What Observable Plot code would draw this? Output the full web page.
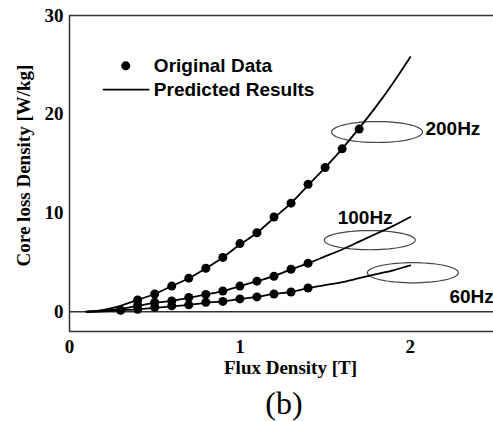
<!DOCTYPE html>
<html>
<head>
<meta charset="utf-8">
<script src="https://cdn.jsdelivr.net/npm/d3@7"></script>
<script src="https://cdn.jsdelivr.net/npm/@observablehq/plot@0.6"></script>
<style>
  html, body { margin: 0; padding: 0; background: #fff; }
  #chart svg { display: block; }
  #cap { font-family: "Liberation Serif", "Times New Roman", serif; font-size: 32px; height: 36px; line-height: 36px; width: 493px; position: relative; }
  #cap span { position: absolute; left: 284px; top: 0; transform: translateX(-50%); }
</style>
</head>
<body>
<div id="chart"></div>
<div id="cap"><span>(b)</span></div>
<script>
// ---- Data ----
const series = ["200Hz", "100Hz", "60Hz"];

// Measured ("Original Data") flux density points
const measB200 = [0.3, 0.4, 0.5, 0.6, 0.7, 0.8, 0.9, 1.0, 1.1, 1.2, 1.3, 1.4, 1.5, 1.6, 1.7];
const meas200  = [0.15, 1.2, 1.8, 2.6, 3.4, 4.4, 5.5, 6.9, 8.0, 9.6, 11.0, 12.9, 14.6, 16.5, 18.5];
const measB100 = [0.4, 0.5, 0.6, 0.7, 0.8, 0.9, 1.0, 1.1, 1.2, 1.3, 1.4];
const meas100  = [0.7, 0.95, 1.1, 1.45, 1.75, 2.1, 2.6, 3.1, 3.6, 4.3, 4.9];
const measB60  = [0.4, 0.5, 0.6, 0.7, 0.8, 0.9, 1.0, 1.1, 1.2, 1.3, 1.4];
const meas60   = [0.25, 0.45, 0.6, 0.7, 0.95, 1.05, 1.3, 1.5, 1.8, 2.0, 2.4];

// Predicted results curves
const predB    = [0.1, 0.2, 0.3, 0.4, 0.5, 0.6, 0.7, 0.8, 0.9, 1.0, 1.1, 1.2, 1.3, 1.4, 1.5, 1.6, 1.7, 1.8, 1.9, 2.0];
const pred200  = [0, 0.2, 0.6, 1.2, 1.8, 2.6, 3.4, 4.4, 5.5, 6.8, 8.0, 9.5, 11.0, 12.8, 14.6, 16.5, 18.6, 20.8, 23.2, 25.8];
const pred100  = [0, 0.1, 0.3, 0.6, 0.9, 1.1, 1.4, 1.75, 2.1, 2.6, 3.1, 3.6, 4.3, 4.9, 5.6, 6.3, 7.1, 7.9, 8.7, 9.6];
const pred60   = [0, 0.05, 0.15, 0.25, 0.4, 0.55, 0.7, 0.9, 1.05, 1.3, 1.5, 1.8, 2.0, 2.4, 2.7, 3.0, 3.4, 3.8, 4.2, 4.7];

// Annotation ellipses (data units) and frequency labels
const ellipseCx = [1.805, 1.762, 2.015];
const ellipseCy = [18.2, 7.25, 3.95];
const ellipseRx = [0.267, 0.267, 0.267];
const ellipseRy = [1.06, 0.97, 1.02];
const labelX    = [2.25, 1.735, 2.36];
const labelY    = [18.5, 9.5, 1.5];

const xTicks = [0, 1, 2];
const yTicks = [0, 10, 20, 30];
const legendLabels = ["Original Data", "Predicted Results"];
const xTitle = "Flux Density [T]";
const yTitle = "Core loss Density [W/kg]";

// ---- Build tables ----
const measured = [
  ...measB200.map((b, i) => ({b, p: meas200[i], s: series[0]})),
  ...measB100.map((b, i) => ({b, p: meas100[i], s: series[1]})),
  ...measB60.map((b, i) => ({b, p: meas60[i], s: series[2]}))
];
const predicted = [
  ...predB.map((b, i) => ({b, p: pred200[i], s: series[0]})),
  ...predB.map((b, i) => ({b, p: pred100[i], s: series[1]})),
  ...predB.map((b, i) => ({b, p: pred60[i], s: series[2]}))
];
const ellipses = [];
series.forEach((s, k) => {
  for (let j = 0; j <= 72; j++) {
    const t = (j / 72) * 2 * Math.PI;
    ellipses.push({s, b: ellipseCx[k] + ellipseRx[k] * Math.cos(t), p: ellipseCy[k] + ellipseRy[k] * Math.sin(t)});
  }
});
const labels = series.map((s, k) => ({s, b: labelX[k], p: labelY[k]}));

// legend placement (data units)
const legDot = [{b: 0.33, p: 24.9}];
const legLine = [{b: 0.2, p: 22.5}, {b: 0.465, p: 22.5}];
const legText = [{b: 0.495, p: 24.9, t: legendLabels[0]}, {b: 0.495, p: 22.5, t: legendLabels[1]}];

const sans = "Liberation Sans, Arial, sans-serif";
const serif = "Liberation Serif, Times New Roman, serif";

const chart = Plot.plot({
  width: 493,
  height: 385,
  marginLeft: 69,
  marginRight: 0,
  marginTop: 15,
  marginBottom: 54,
  style: {background: "#fff", color: "#000"},
  x: {domain: [0, 2.5], range: [69, 495]},
  y: {domain: [-2, 30], range: [331, 15]},
  marks: [
    // frame
    Plot.ruleY([30, -2, 0], {stroke: "#333", strokeWidth: 1.5}),
    Plot.ruleX([0], {y1: -2, y2: 30, stroke: "#333", strokeWidth: 1.5}),
    // axes
    Plot.axisX({ticks: xTicks, tickSize: 0, tickPadding: 8, tickFormat: d3.format("d"),
      fontFamily: serif, fontWeight: "bold", fontSize: 19, label: null}),
    Plot.axisY({ticks: yTicks, tickSize: 0, tickPadding: 6, tickFormat: d3.format("d"),
      fontFamily: serif, fontWeight: "bold", fontSize: 19, label: null}),
    // axis titles
    Plot.text([xTitle], {frameAnchor: "bottom", dx: 9, dy: 36, lineAnchor: "middle",
      fontFamily: serif, fontWeight: "bold", fontSize: 19, fill: "#000"}),
    Plot.text([yTitle], {frameAnchor: "left", rotate: -90, dx: -46, dy: -8, lineAnchor: "middle", textAnchor: "middle",
      fontFamily: serif, fontWeight: "bold", fontSize: 19, fill: "#000"}),
    // ellipses
    Plot.line(ellipses, {x: "b", y: "p", z: "s", stroke: "#444", strokeWidth: 1.2}),
    // predicted curves
    Plot.line(predicted, {x: "b", y: "p", z: "s", stroke: "#000", strokeWidth: 1.8, curve: "catmull-rom"}),
    // measured dots
    Plot.dot(measured, {x: "b", y: "p", r: 4.5, fill: "#000"}),
    // frequency labels
    Plot.text(labels, {x: "b", y: "p", text: "s", fontFamily: sans, fontWeight: "bold", fontSize: 19, fill: "#000"}),
    // legend
    Plot.dot(legDot, {x: "b", y: "p", r: 4.5, fill: "#000"}),
    Plot.line(legLine, {x: "b", y: "p", stroke: "#000", strokeWidth: 1.8}),
    Plot.text(legText, {x: "b", y: "p", text: "t", textAnchor: "start", fontFamily: sans, fontWeight: "bold", fontSize: 19, fill: "#000"})
  ]
});
document.getElementById("chart").appendChild(chart);
</script>
</body>
</html>
